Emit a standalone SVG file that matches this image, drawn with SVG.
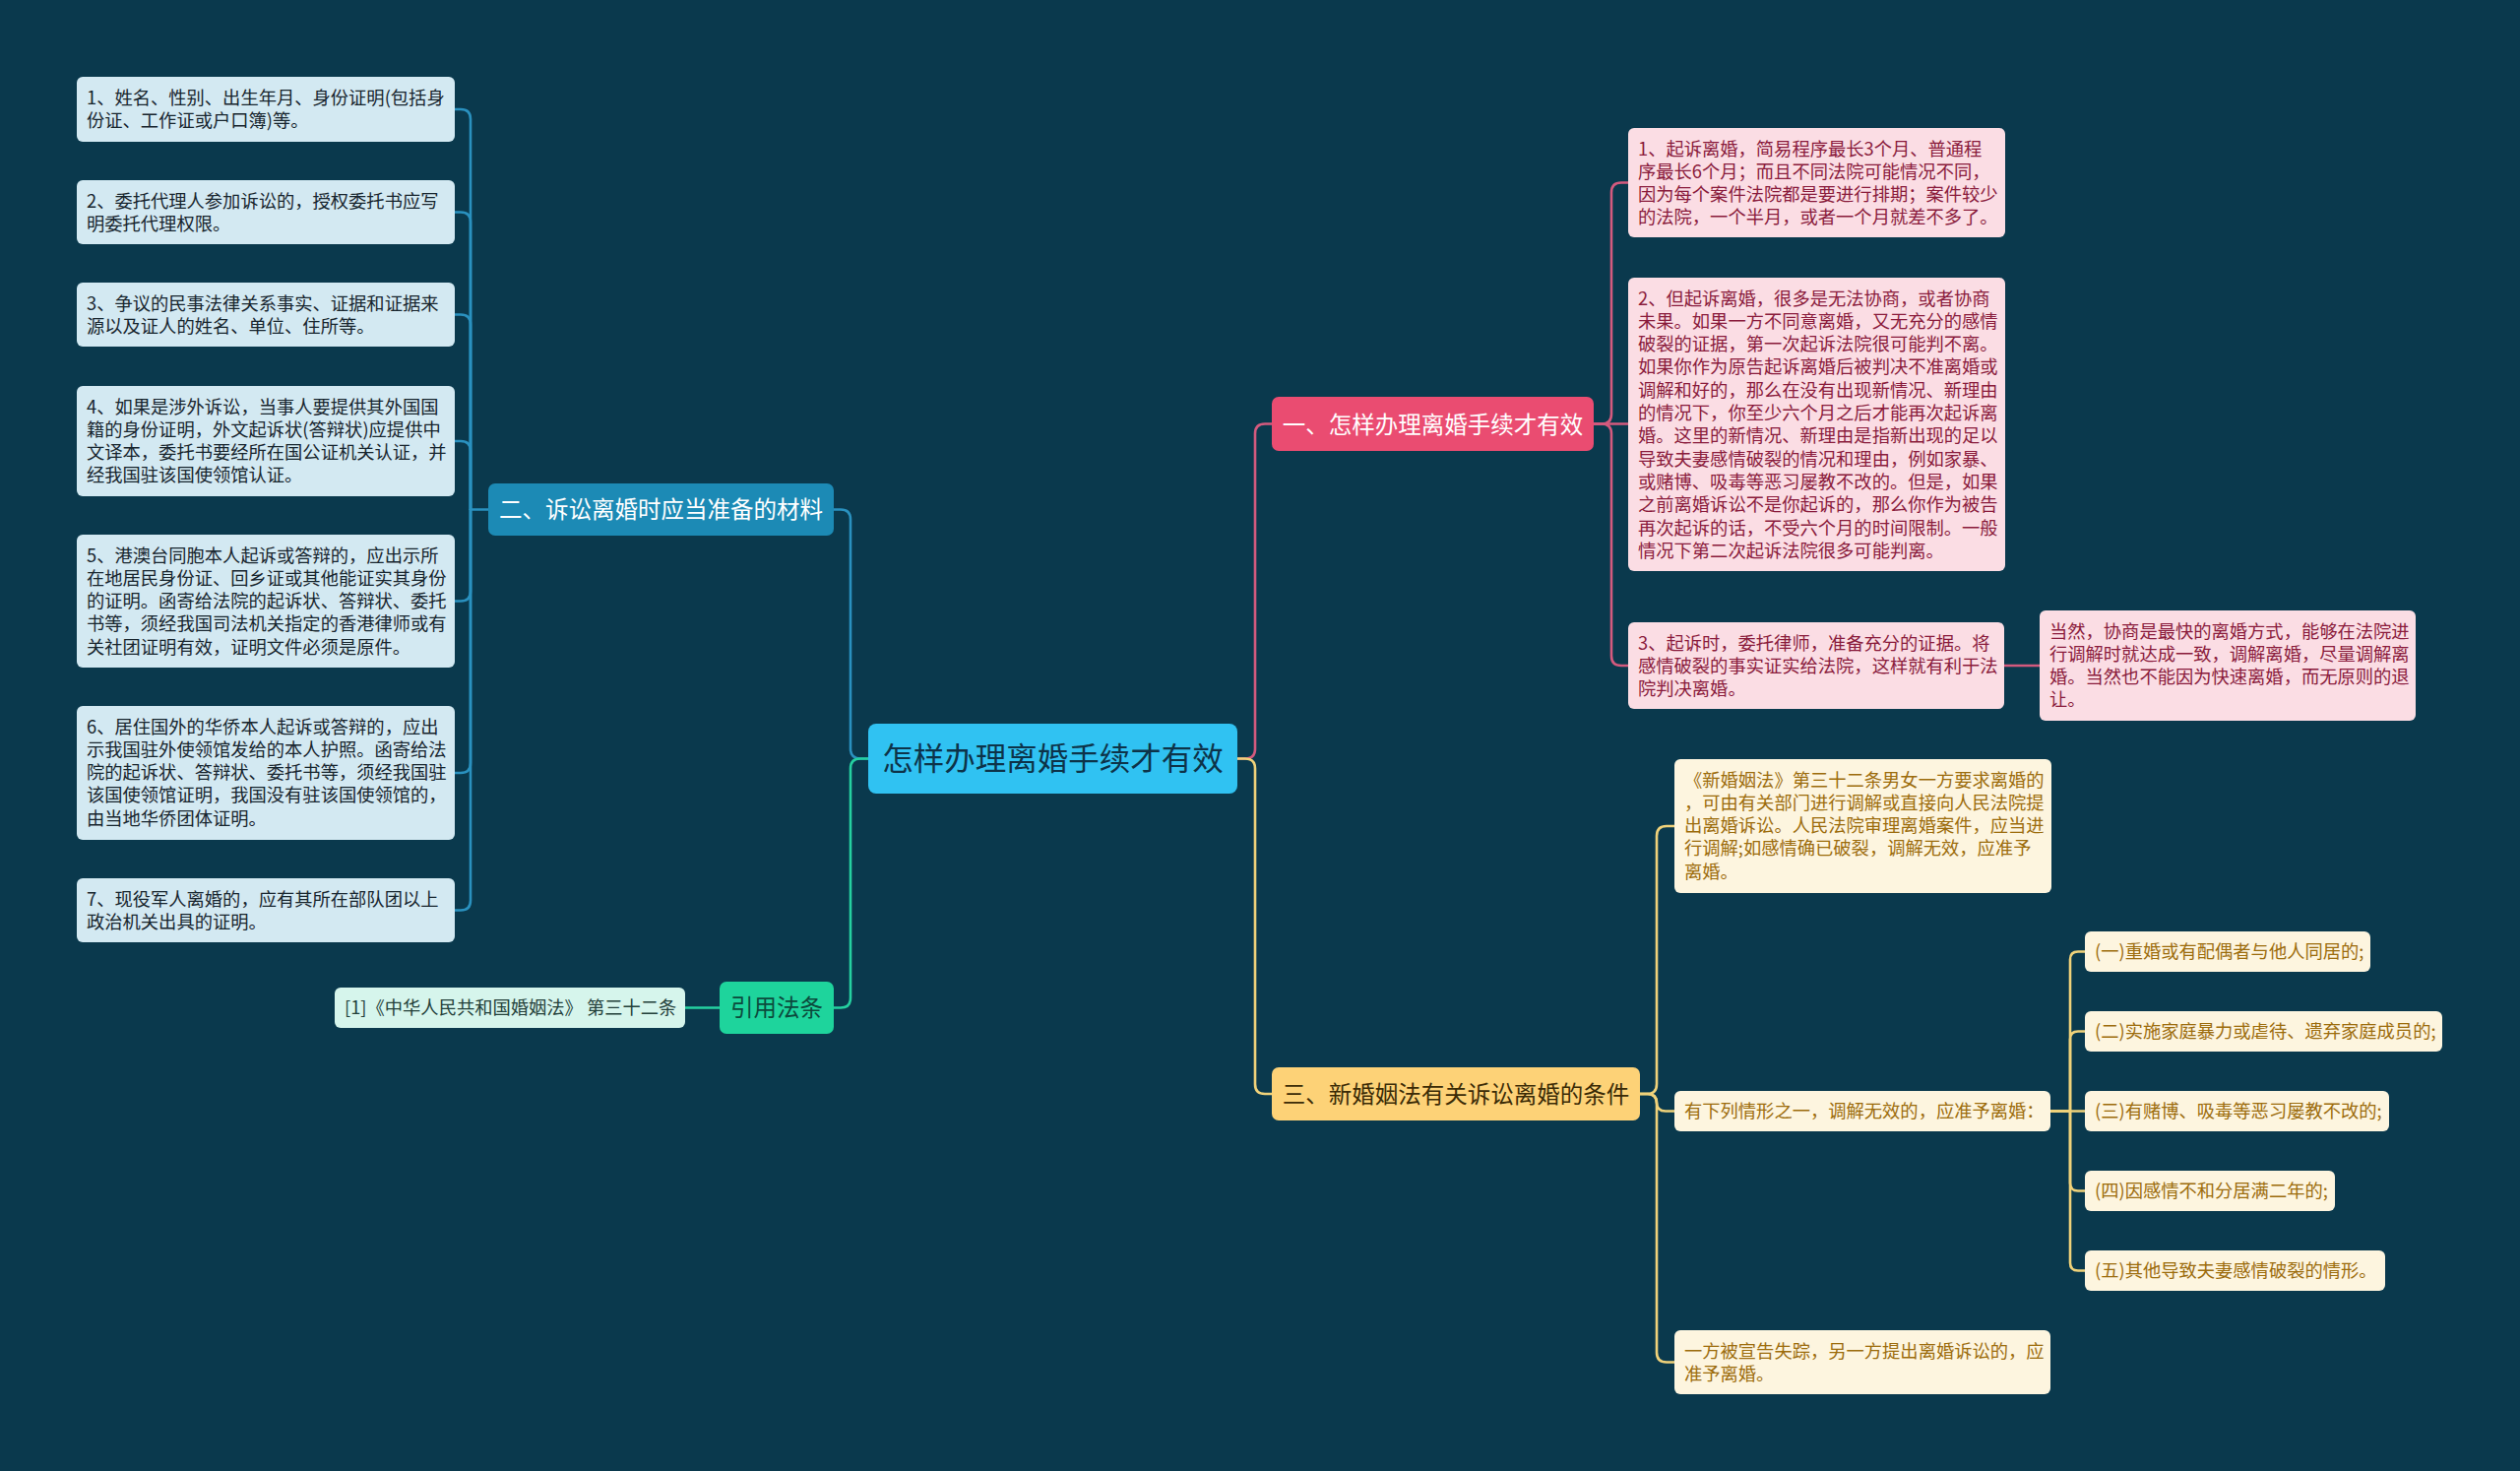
<svg xmlns="http://www.w3.org/2000/svg" width="2560" height="1494" viewBox="0 0 2560 1494">
<style>
text{font-family:"Noto Sans CJK SC","Noto Sans",sans-serif;}
.c{fill:none;stroke-width:2.6;stroke-linecap:round;stroke-linejoin:round;}
.cb{stroke:#2a91bf;}
.cg{stroke:#25d0a0;}
.cp{stroke:#d45a7e;}
.cy{stroke:#f0d27a;}
.lb{fill:#d3e9f2;}
.pb{fill:#fbdde4;}
.yb{fill:#fdf5df;}
.t{font-size:18.3px;}
.tl{fill:#17252e;}
.tp{fill:#8a1b3c;}
.ty{fill:#9c6c0c;}
.n{font-size:23.5px;}
</style>
<rect width="2560" height="1494" fill="#0a394d"/>
<g id="connectors">
<path class="c cb" d="M496,517.5 H478"/>
<path class="c cb" d="M478,517.5 V121 Q478,111 468,111 H462"/>
<path class="c cb" d="M478,517.5 V225.5 Q478,215.5 468,215.5 H462"/>
<path class="c cb" d="M478,517.5 V329.5 Q478,319.5 468,319.5 H462"/>
<path class="c cb" d="M478,517.5 V458 Q478,448 468,448 H462"/>
<path class="c cb" d="M478,517.5 V600.5 Q478,610.5 468,610.5 H462"/>
<path class="c cb" d="M478,517.5 V775 Q478,785 468,785 H462"/>
<path class="c cb" d="M478,517.5 V914.5 Q478,924.5 468,924.5 H462"/>
<path class="c cb" d="M882,770.5 H874 Q864,770.5 864,760.5 V527.5 Q864,517.5 854,517.5 H847"/>
<path class="c cg" d="M882,770.5 H874 Q864,770.5 864,780.5 V1013.5 Q864,1023.5 854,1023.5 H847"/>
<path class="c cg" d="M731,1023.5 H696"/>
<path class="c cp" d="M1257,770.5 H1265 Q1275,770.5 1275,760.5 V440.5 Q1275,430.5 1285,430.5 H1292"/>
<path class="c cy" d="M1257,770.5 H1265 Q1275,770.5 1275,780.5 V1101 Q1275,1111 1285,1111 H1292"/>
<path class="c cp" d="M1619,430.5 H1627 Q1637,430.5 1637,420.5 V195.5 Q1637,185.5 1647,185.5 H1654"/>
<path class="c cp" d="M1619,430.5 H1654"/>
<path class="c cp" d="M1619,430.5 H1627 Q1637,430.5 1637,440.5 V666 Q1637,676 1647,676 H1654"/>
<path class="c cp" d="M2036,676 H2072"/>
<path class="c cy" d="M1666,1111 H1673 Q1683,1111 1683,1101 V849 Q1683,839 1693,839 H1701"/>
<path class="c cy" d="M1666,1111 H1674 Q1683,1111 1683,1120 Q1683,1128.5 1692,1128.5 H1701"/>
<path class="c cy" d="M1666,1111 H1673 Q1683,1111 1683,1121 V1373.5 Q1683,1383.5 1693,1383.5 H1701"/>
<path class="c cy" d="M2083,1128.5 H2103 V974.5 Q2103,966.5 2111,966.5 H2118"/>
<path class="c cy" d="M2083,1128.5 H2103 V1055.5 Q2103,1047.5 2111,1047.5 H2118"/>
<path class="c cy" d="M2083,1128.5 H2118"/>
<path class="c cy" d="M2083,1128.5 H2103 V1201.5 Q2103,1209.5 2111,1209.5 H2118"/>
<path class="c cy" d="M2083,1128.5 H2103 V1282.5 Q2103,1290.5 2111,1290.5 H2118"/>
</g>
<g id="center">
<rect x="882" y="735" width="375" height="71" rx="8" fill="#30c2f2"/>
<text x="1069.5" y="782" font-size="31.5" text-anchor="middle" fill="#0d3349">怎样办理离婚手续才有效</text>
</g>
<g id="node-er">
<rect x="496" y="491" width="351" height="53" rx="7" fill="#1c8ab5"/>
<text class="n" x="671.5" y="526" text-anchor="middle" fill="#ffffff">二、诉讼离婚时应当准备的材料</text>
</g>
<g id="node-yinyong">
<rect x="731" y="997" width="116" height="53" rx="7" fill="#1ed49c"/>
<text class="n" x="789" y="1032" text-anchor="middle" fill="#0c4a3c">引用法条</text>
</g>
<g id="node-ref">
<rect x="340" y="1003" width="356" height="41" rx="6" fill="#d6f5ec"/>
<text class="t" x="350" y="1030" fill="#23403a">[1]《中华人民共和国婚姻法》 第三十二条</text>
</g>
<g id="node-yi">
<rect x="1292" y="403" width="327" height="55" rx="7" fill="#ea4c71"/>
<text class="n" x="1455.5" y="439.5" text-anchor="middle" fill="#ffffff">一、怎样办理离婚手续才有效</text>
</g>
<g id="node-san">
<rect x="1292" y="1084" width="374" height="54" rx="7" fill="#fdd277"/>
<text class="n" x="1479" y="1120" text-anchor="middle" fill="#3b2b06">三、新婚姻法有关诉讼离婚的条件</text>
</g>
<g id="left-1">
<rect class="lb" x="78" y="78" width="384" height="66" rx="6"/>
<text class="t tl" x="88" y="105.5"><tspan x="88">1、姓名、性别、出生年月、身份证明(包括身</tspan><tspan x="88" dy="23.3">份证、工作证或户口簿)等。</tspan></text>
</g>
<g id="left-2">
<rect class="lb" x="78" y="183" width="384" height="65" rx="6"/>
<text class="t tl" x="88" y="210.5"><tspan x="88">2、委托代理人参加诉讼的，授权委托书应写</tspan><tspan x="88" dy="23.3">明委托代理权限。</tspan></text>
</g>
<g id="left-3">
<rect class="lb" x="78" y="287" width="384" height="65" rx="6"/>
<text class="t tl" x="88" y="314.5"><tspan x="88">3、争议的民事法律关系事实、证据和证据来</tspan><tspan x="88" dy="23.3">源以及证人的姓名、单位、住所等。</tspan></text>
</g>
<g id="left-4">
<rect class="lb" x="78" y="392" width="384" height="112" rx="6"/>
<text class="t tl" x="88" y="419.5"><tspan x="88">4、如果是涉外诉讼，当事人要提供其外国国</tspan><tspan x="88" dy="23.3">籍的身份证明，外文起诉状(答辩状)应提供中</tspan><tspan x="88" dy="23.3">文译本，委托书要经所在国公证机关认证，并</tspan><tspan x="88" dy="23.3">经我国驻该国使领馆认证。</tspan></text>
</g>
<g id="left-5">
<rect class="lb" x="78" y="543" width="384" height="135" rx="6"/>
<text class="t tl" x="88" y="570.5"><tspan x="88">5、港澳台同胞本人起诉或答辩的，应出示所</tspan><tspan x="88" dy="23.3">在地居民身份证、回乡证或其他能证实其身份</tspan><tspan x="88" dy="23.3">的证明。函寄给法院的起诉状、答辩状、委托</tspan><tspan x="88" dy="23.3">书等，须经我国司法机关指定的香港律师或有</tspan><tspan x="88" dy="23.3">关社团证明有效，证明文件必须是原件。</tspan></text>
</g>
<g id="left-6">
<rect class="lb" x="78" y="717" width="384" height="136" rx="6"/>
<text class="t tl" x="88" y="744.5"><tspan x="88">6、居住国外的华侨本人起诉或答辩的，应出</tspan><tspan x="88" dy="23.3">示我国驻外使领馆发给的本人护照。函寄给法</tspan><tspan x="88" dy="23.3">院的起诉状、答辩状、委托书等，须经我国驻</tspan><tspan x="88" dy="23.3">该国使领馆证明，我国没有驻该国使领馆的，</tspan><tspan x="88" dy="23.3">由当地华侨团体证明。</tspan></text>
</g>
<g id="left-7">
<rect class="lb" x="78" y="892" width="384" height="65" rx="6"/>
<text class="t tl" x="88" y="919.5"><tspan x="88">7、现役军人离婚的，应有其所在部队团以上</tspan><tspan x="88" dy="23.3">政治机关出具的证明。</tspan></text>
</g>
<g id="pink-1">
<rect class="pb" x="1654" y="130" width="383" height="111" rx="6"/>
<text class="t tp" x="1664" y="157.5"><tspan x="1664">1、起诉离婚，简易程序最长3个月、普通程</tspan><tspan x="1664" dy="23.3">序最长6个月；而且不同法院可能情况不同，</tspan><tspan x="1664" dy="23.3">因为每个案件法院都是要进行排期；案件较少</tspan><tspan x="1664" dy="23.3">的法院，一个半月，或者一个月就差不多了。</tspan></text>
</g>
<g id="pink-2">
<rect class="pb" x="1654" y="282" width="383" height="298" rx="6"/>
<text class="t tp" x="1664" y="309.5"><tspan x="1664">2、但起诉离婚，很多是无法协商，或者协商</tspan><tspan x="1664" dy="23.3">未果。如果一方不同意离婚，又无充分的感情</tspan><tspan x="1664" dy="23.3">破裂的证据，第一次起诉法院很可能判不离。</tspan><tspan x="1664" dy="23.3">如果你作为原告起诉离婚后被判决不准离婚或</tspan><tspan x="1664" dy="23.3">调解和好的，那么在没有出现新情况、新理由</tspan><tspan x="1664" dy="23.3">的情况下，你至少六个月之后才能再次起诉离</tspan><tspan x="1664" dy="23.3">婚。这里的新情况、新理由是指新出现的足以</tspan><tspan x="1664" dy="23.3">导致夫妻感情破裂的情况和理由，例如家暴、</tspan><tspan x="1664" dy="23.3">或赌博、吸毒等恶习屡教不改的。但是，如果</tspan><tspan x="1664" dy="23.3">之前离婚诉讼不是你起诉的，那么你作为被告</tspan><tspan x="1664" dy="23.3">再次起诉的话，不受六个月的时间限制。一般</tspan><tspan x="1664" dy="23.3">情况下第二次起诉法院很多可能判离。</tspan></text>
</g>
<g id="pink-3">
<rect class="pb" x="1654" y="632" width="382" height="88" rx="6"/>
<text class="t tp" x="1664" y="659.5"><tspan x="1664">3、起诉时，委托律师，准备充分的证据。将</tspan><tspan x="1664" dy="23.3">感情破裂的事实证实给法院，这样就有利于法</tspan><tspan x="1664" dy="23.3">院判决离婚。</tspan></text>
</g>
<g id="pink-4">
<rect class="pb" x="2072" y="620" width="382" height="112" rx="6"/>
<text class="t tp" x="2082" y="647.5"><tspan x="2082">当然，协商是最快的离婚方式，能够在法院进</tspan><tspan x="2082" dy="23.3">行调解时就达成一致，调解离婚，尽量调解离</tspan><tspan x="2082" dy="23.3">婚。当然也不能因为快速离婚，而无原则的退</tspan><tspan x="2082" dy="23.3">让。</tspan></text>
</g>
<g id="yellow-1">
<rect class="yb" x="1701" y="771" width="383" height="136" rx="6"/>
<text class="t ty" x="1711" y="798.5"><tspan x="1711">《新婚姻法》第三十二条男女一方要求离婚的</tspan><tspan x="1711" dy="23.3">，可由有关部门进行调解或直接向人民法院提</tspan><tspan x="1711" dy="23.3">出离婚诉讼。人民法院审理离婚案件，应当进</tspan><tspan x="1711" dy="23.3">行调解;如感情确已破裂，调解无效，应准予</tspan><tspan x="1711" dy="23.3">离婚。</tspan></text>
</g>
<g id="yellow-2">
<rect class="yb" x="1701" y="1108" width="382" height="41" rx="6"/>
<text class="t ty" x="1711" y="1135">有下列情形之一，调解无效的，应准予离婚：</text>
</g>
<g id="yellow-3">
<rect class="yb" x="1701" y="1351" width="382" height="65" rx="6"/>
<text class="t ty" x="1711" y="1378.5"><tspan x="1711">一方被宣告失踪，另一方提出离婚诉讼的，应</tspan><tspan x="1711" dy="23.3">准予离婚。</tspan></text>
</g>
<g id="sub-1">
<rect class="yb" x="2118" y="946" width="290" height="41" rx="6"/>
<text class="t ty" x="2128" y="973">(一)重婚或有配偶者与他人同居的;</text>
</g>
<g id="sub-2">
<rect class="yb" x="2118" y="1027" width="363" height="41" rx="6"/>
<text class="t ty" x="2128" y="1054">(二)实施家庭暴力或虐待、遗弃家庭成员的;</text>
</g>
<g id="sub-3">
<rect class="yb" x="2118" y="1108" width="309" height="41" rx="6"/>
<text class="t ty" x="2128" y="1135">(三)有赌博、吸毒等恶习屡教不改的;</text>
</g>
<g id="sub-4">
<rect class="yb" x="2118" y="1189" width="254" height="41" rx="6"/>
<text class="t ty" x="2128" y="1216">(四)因感情不和分居满二年的;</text>
</g>
<g id="sub-5">
<rect class="yb" x="2118" y="1270" width="305" height="41" rx="6"/>
<text class="t ty" x="2128" y="1297">(五)其他导致夫妻感情破裂的情形。</text>
</g>
</svg>
